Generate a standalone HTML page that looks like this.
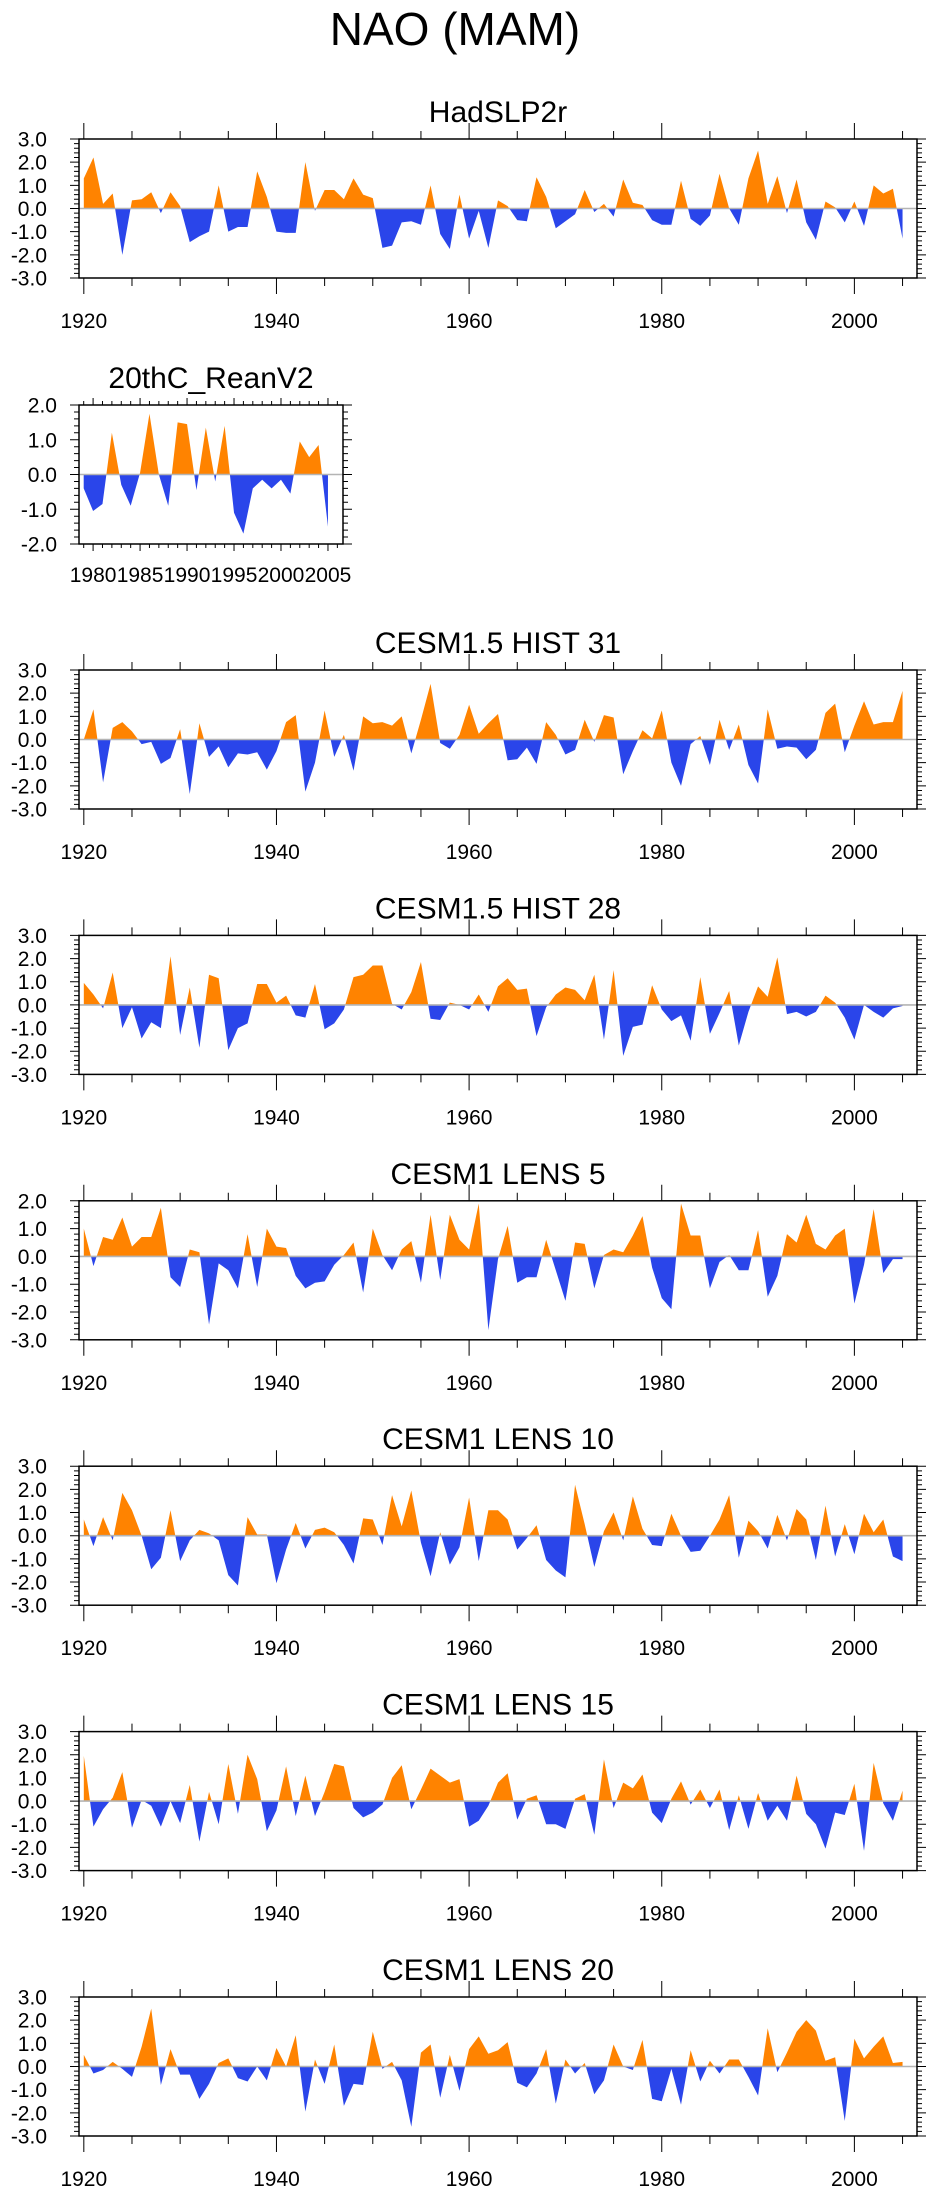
<!DOCTYPE html>
<html><head><meta charset="utf-8"><title>NAO (MAM)</title>
<style>
html,body{margin:0;padding:0;background:#fff;}
svg{display:block;font-family:"Liberation Sans",Arial,sans-serif;}
</style></head>
<body>
<svg id="chart" xmlns="http://www.w3.org/2000/svg" width="943" height="2196" viewBox="0 0 943 2196">
<text x="455" y="45" font-size="46" text-anchor="middle">NAO (MAM)</text>
</svg>
<script>
const hadslp2r = [1.3,2.2,0.2,0.65,-2.0,0.35,0.4,0.7,-0.2,0.7,0.1,-1.45,-1.2,-1.0,1.0,-1.0,-0.8,-0.8,1.6,0.5,-1.0,-1.05,-1.05,2.0,-0.1,0.8,0.8,0.4,1.3,0.6,0.45,-1.7,-1.6,-0.6,-0.55,-0.7,1.0,-1.1,-1.75,0.6,-1.3,-0.1,-1.7,0.35,0.1,-0.5,-0.55,1.35,0.5,-0.85,-0.55,-0.25,0.8,-0.15,0.2,-0.35,1.25,0.25,0.15,-0.5,-0.7,-0.7,1.2,-0.45,-0.75,-0.3,1.5,0.0,-0.7,1.3,2.5,0.2,1.4,-0.2,1.25,-0.6,-1.35,0.3,0.05,-0.6,0.3,-0.75,1.0,0.65,0.85,-1.3];
const reanv2 = [-0.4,-1.05,-0.85,1.2,-0.3,-0.9,0.05,1.75,0.0,-0.9,1.5,1.45,-0.45,1.35,-0.2,1.4,-1.1,-1.7,-0.4,-0.15,-0.4,-0.15,-0.55,0.95,0.5,0.85,-1.5];
const hist31 = [0.0,1.3,-1.85,0.5,0.75,0.35,-0.2,-0.1,-1.05,-0.8,0.45,-2.35,0.7,-0.75,-0.3,-1.2,-0.6,-0.65,-0.55,-1.3,-0.5,0.75,1.05,-2.25,-1.0,1.25,-0.75,0.2,-1.35,1.0,0.7,0.75,0.6,1.0,-0.6,0.85,2.4,-0.15,-0.4,0.2,1.5,0.25,0.7,1.1,-0.9,-0.85,-0.35,-1.05,0.75,0.2,-0.65,-0.45,0.85,-0.1,1.05,0.95,-1.5,-0.5,0.4,0.05,1.25,-1.0,-2.0,-0.2,0.15,-1.1,0.85,-0.45,0.65,-1.1,-1.9,1.3,-0.4,-0.3,-0.35,-0.85,-0.45,1.15,1.55,-0.55,0.6,1.65,0.65,0.75,0.75,2.1];
const hist28 = [0.95,0.45,-0.15,1.4,-1.0,-0.1,-1.45,-0.75,-1.0,2.1,-1.3,0.75,-1.85,1.3,1.15,-1.95,-1.0,-0.8,0.9,0.9,0.1,0.4,-0.45,-0.55,0.9,-1.05,-0.8,-0.2,1.2,1.3,1.7,1.7,0.05,-0.2,0.55,1.85,-0.6,-0.65,0.1,0.0,-0.2,0.45,-0.3,0.8,1.15,0.65,0.7,-1.35,-0.1,0.45,0.75,0.65,0.2,1.3,-1.5,1.5,-2.2,-0.95,-0.85,0.85,-0.2,-0.7,-0.45,-1.55,1.2,-1.25,-0.35,0.6,-1.75,-0.3,0.8,0.35,2.05,-0.4,-0.3,-0.5,-0.3,0.4,0.1,-0.55,-1.5,0.0,-0.3,-0.55,-0.15,-0.05];
const lens5 = [1.0,-0.35,0.7,0.6,1.4,0.35,0.7,0.7,1.75,-0.75,-1.1,0.25,0.15,-2.45,-0.25,-0.5,-1.15,0.8,-1.1,1.0,0.35,0.3,-0.7,-1.15,-0.95,-0.9,-0.3,0.05,0.5,-1.3,1.0,0.05,-0.5,0.25,0.55,-0.95,1.5,-0.85,1.5,0.6,0.25,1.9,-2.65,-0.1,1.1,-0.95,-0.75,-0.75,0.6,-0.5,-1.6,0.5,0.45,-1.15,0.05,0.25,0.15,0.75,1.45,-0.4,-1.5,-1.9,1.9,0.75,0.75,-1.15,-0.2,0.05,-0.5,-0.5,0.95,-1.45,-0.7,0.8,0.5,1.5,0.45,0.25,0.75,1.0,-1.7,-0.3,1.7,-0.6,-0.1,-0.1];
const lens10 = [0.7,-0.45,0.8,-0.2,1.85,1.1,0.0,-1.45,-0.95,1.1,-1.1,-0.2,0.25,0.1,-0.2,-1.7,-2.15,0.8,0.05,0.05,-2.05,-0.6,0.55,-0.55,0.25,0.35,0.15,-0.4,-1.2,0.75,0.7,-0.4,1.75,0.4,1.95,-0.3,-1.75,0.15,-1.25,-0.5,1.65,-1.1,1.1,1.1,0.7,-0.6,-0.1,0.45,-1.05,-1.5,-1.8,2.2,0.5,-1.35,0.2,1.0,-0.2,1.7,0.3,-0.4,-0.45,0.95,0.0,-0.7,-0.65,0.0,0.7,1.75,-0.95,0.65,0.2,-0.55,0.9,-0.2,1.15,0.7,-1.05,1.3,-0.9,0.5,-0.8,0.95,0.15,0.7,-0.9,-1.1];
const lens15 = [1.95,-1.1,-0.35,0.15,1.25,-1.15,0.05,-0.2,-1.1,0.0,-0.95,0.7,-1.75,0.4,-1.0,1.6,-0.55,2.0,0.95,-1.3,-0.4,1.5,-0.65,1.1,-0.65,0.4,1.6,1.5,-0.3,-0.7,-0.5,-0.15,1.0,1.55,-0.35,0.5,1.4,1.1,0.8,0.95,-1.1,-0.85,-0.2,0.8,1.2,-0.8,0.1,0.25,-1.0,-1.0,-1.2,0.1,0.3,-1.45,1.8,-0.3,0.8,0.55,1.15,-0.5,-0.95,0.1,0.85,-0.15,0.5,-0.3,0.5,-1.25,0.25,-1.2,0.35,-0.85,-0.2,-0.85,1.1,-0.55,-1.0,-2.05,-0.5,-0.6,0.75,-2.15,1.65,-0.1,-0.85,0.45];
const lens20 = [0.5,-0.3,-0.15,0.2,-0.1,-0.45,0.85,2.5,-0.8,0.75,-0.35,-0.35,-1.4,-0.75,0.15,0.35,-0.5,-0.65,0.0,-0.6,0.8,0.0,1.35,-1.95,0.3,-0.75,0.95,-1.7,-0.75,-0.8,1.5,-0.1,0.2,-0.6,-2.6,0.6,0.95,-1.35,0.5,-1.05,0.75,1.3,0.55,0.7,1.05,-0.7,-0.9,-0.3,0.75,-1.6,0.3,-0.3,0.15,-1.2,-0.6,0.95,0.0,-0.15,1.15,-1.4,-1.5,-0.1,-1.65,0.7,-0.65,0.25,-0.3,0.3,0.3,-0.45,-1.25,1.65,-0.25,0.6,1.5,2.0,1.55,0.25,0.4,-2.35,1.2,0.35,0.85,1.3,0.15,0.2];
const panelTitles = ["HadSLP2r","20thC_ReanV2","CESM1.5 HIST 31","CESM1.5 HIST 28","CESM1 LENS 5","CESM1 LENS 10","CESM1 LENS 15","CESM1 LENS 20"];
const startYears = [1920,1979,1920,1920,1920,1920,1920,1920];
const yTickLabels3 = ["3.0","2.0","1.0","0.0","-1.0","-2.0","-3.0"];
const yTickLabels2 = ["2.0","1.0","0.0","-1.0","-2.0"];
const yTickLabels5 = ["2.0","1.0","0.0","-1.0","-2.0","-3.0"];
const xTickLabelsLong = ["1920","1940","1960","1980","2000"];
const xTickLabelsShort = ["1980","1985","1990","1995","2000","2005"];

const NS="http://www.w3.org/2000/svg";
const svg=document.getElementById('chart');
const ORANGE="#ff8300", BLUE="#2a45ea";
function mk(tag,attrs,parent){const e=document.createElementNS(NS,tag);for(const k in attrs)e.setAttribute(k,attrs[k]);(parent||svg).appendChild(e);return e;}

const series=[hadslp2r,reanv2,hist31,hist28,lens5,lens10,lens15,lens20];
const slugs=["hadslp2r","20thc-reanv2","cesm15-hist-31","cesm15-hist-28","cesm1-lens-5","cesm1-lens-10","cesm1-lens-15","cesm1-lens-20"];

function drawPanel(i){
  const vals=series[i];
  const small=(i===1);
  const x0=79, x1=small?343:917;
  const top=(i<2)?(i===0?139:405):670+265.4*(i-2);
  const h=139, bot=top+h;
  const ymax=(i===1||i===4)?2:3, ymin=(i===1)?-2:-3;
  const xmin=small?1978.5:1919.5, xmax=small?2006.6:2006.5;
  const X=v=>x0+(v-xmin)/(xmax-xmin)*(x1-x0);
  const Y=v=>top+(ymax-v)/(ymax-ymin)*h;
  const g=mk('g',{});
  
  
  const t=mk('text',{x:(x0+x1)/2,y:top-17,'font-size':30,'text-anchor':'middle'},g);
  t.textContent=panelTitles[i];
  
  
  // area
  const y0=Y(0);
  let d='M'+X(startYears[i])+','+y0;
  vals.forEach((v,k)=>{d+=' L'+X(startYears[i]+k).toFixed(2)+','+Y(v).toFixed(2);});
  d+=' L'+X(startYears[i]+vals.length-1)+','+y0+' Z';
  const cidA='ca'+i, cidB='cb'+i;
  const defs=mk('defs',{},g);
  const ca=mk('clipPath',{id:cidA},defs); mk('rect',{x:x0,y:top,width:x1-x0,height:y0-top},ca);
  const cb=mk('clipPath',{id:cidB},defs); mk('rect',{x:x0,y:y0,width:x1-x0,height:bot-y0},cb);
  const pa=mk('path',{d:d,fill:ORANGE,'clip-path':'url(#'+cidA+')'},g);
  
  
  const pb=mk('path',{d:d,fill:BLUE,'clip-path':'url(#'+cidB+')'},g);
  
  
  const zl=mk('line',{x1:x0,x2:x1,y1:y0,y2:y0,stroke:'#b4b4b4','stroke-width':1.6},g);
  
  
  // frame
  const fr=mk('rect',{x:x0,y:top,width:x1-x0,height:h,fill:'none',stroke:'#000','stroke-width':1.5},g);
  
  
  // y ticks
  let ts='';
  for(let v=ymin;v<=ymax+1e-6;v+=0.2){
    const vv=Math.round(v*10)/10, yy=Y(vv).toFixed(2);
    const major=Math.abs(vv-Math.round(vv))<1e-6;
    const L=major?9:5;
    ts+='M'+(x0-L)+','+yy+'H'+x0+'M'+x1+','+yy+'H'+(x1+L);
  }
  // x ticks
  if(!small){
    for(let yr=1920;yr<=2005;yr+=5){
      const xx=X(yr).toFixed(2), L=(yr%20===0)?16:8;
      ts+='M'+xx+','+(top-L)+'V'+top+'M'+xx+','+bot+'V'+(bot+L);
    }
  } else {
    for(let yr=1979;yr<=2006;yr++){
      const xx=X(yr).toFixed(2), L=(yr%5===0)?7:4;
      ts+='M'+xx+','+(top-L)+'V'+top+'M'+xx+','+bot+'V'+(bot+L);
    }
  }
  const tk=mk('path',{d:ts,stroke:'#000','stroke-width':1,fill:'none'},g);
  
  
  // y labels
  const yl=small?yTickLabels2:(ymax===2?yTickLabels5:yTickLabels3);
  yl.forEach(s=>{
    const e=mk('text',{x:small?57:47,y:Y(parseFloat(s))+7.5,'font-size':21,'text-anchor':'end'},g);
    e.textContent=s;
    
    
  });
  const xl=small?xTickLabelsShort:xTickLabelsLong;
  xl.forEach(s=>{
    const e=mk('text',{x:X(parseFloat(s)),y:small?bot+38:bot+50,'font-size':21,'text-anchor':'middle'},g);
    e.textContent=s;
    
    
  });
}
for(let i=0;i<8;i++)drawPanel(i);
</script>
</body></html>
